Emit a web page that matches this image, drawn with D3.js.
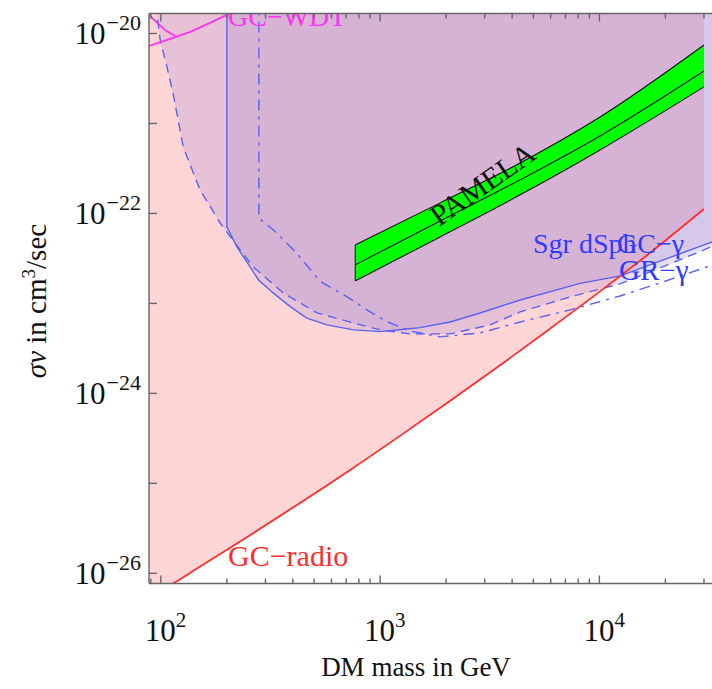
<!DOCTYPE html>
<html><head><meta charset="utf-8">
<script src="https://cdn.jsdelivr.net/npm/d3@7"></script>
<style>
body{margin:0;background:#fff}
svg{display:block}
text{font-family:"Liberation Serif","DejaVu Serif",serif}
</style>
</head><body>
<svg id="c" width="712" height="689"></svg>
<script>
// ---------- data (DM mass in GeV, sigma v in cm^3/s) ----------
const radioMass  = [88, 113, 151, 255, 431, 730, 1233, 2084, 3524, 5957, 10070, 17020, 30000];
const radioSigma = [5.4e-27, 7.64e-27, 1.19e-26, 2.65e-26, 6.05e-26, 1.41e-25, 3.37e-25, 8.26e-25, 2.05e-24, 5.24e-24, 1.36e-23, 3.64e-23, 1.12e-22];

const sgrMass  = [200, 200, 222, 279, 326, 389, 463, 572, 756, 1000, 1295, 1522, 2085, 2858, 4350, 8166, 12430, 30000, 35500];
const sgrSigma = [1e-19, 7.08e-23, 4.28e-23, 1.82e-23, 1.30e-23, 9.20e-24, 6.85e-24, 5.77e-24, 5.08e-24, 4.86e-24, 5.16e-24, 5.38e-24, 6.22e-24, 7.83e-24, 1.09e-23, 1.67e-23, 2.02e-23, 4.47e-23, 5.2e-23];

const gcGammaMass  = [93.2, 95.9, 99.3, 106.5, 114.1, 126.4, 151, 186.4, 229.9, 263.6, 361.2, 516.1, 755, 1000, 1370, 2085, 3175, 4350, 7352, 12430, 18920, 30000, 35500];
const gcGammaSigma = [3.04e-20, 1.675e-20, 8.47e-21, 4.28e-21, 2.07e-21, 5.48e-22, 1.82e-22, 7.83e-23, 3.93e-23, 2.55e-23, 1.31e-23, 7.83e-24, 6.07e-24, 5.08e-24, 4.58e-24, 4.58e-24, 5.77e-24, 8.05e-24, 1.18e-23, 1.65e-23, 2.48e-23, 3.93e-23, 4.70e-23];

const grGammaMass  = [280, 280, 326, 417, 533, 705, 870, 1073, 1370, 1878, 2858, 4350, 7352, 12430, 18920, 30000, 35500];
const grGammaSigma = [1e-19, 8.85e-23, 6.56e-23, 3.61e-23, 1.75e-23, 1.19e-23, 8.47e-24, 6.28e-24, 4.94e-24, 4.25e-24, 4.70e-24, 6.22e-24, 8.47e-24, 1.21e-23, 1.69e-23, 2.48e-23, 2.89e-23];

const wdtMassA  = [88.4, 110.3, 136, 167.8, 200, 229.9];
const wdtSigmaA = [7.26e-21, 8.69e-21, 1.04e-20, 1.31e-20, 1.61e-20, 1.92e-20];
const wdtMassB  = [88.4, 97.2, 105.7, 116.2];
const wdtSigmaB = [1.61e-20, 1.28e-20, 1.07e-20, 9.38e-21];

const pamelaMass   = [770, 1878, 4350, 10070, 30000];
const pamelaLow    = [1.78e-23, 5.48e-23, 1.61e-22, 5.08e-22, 2.55e-21];
const pamelaCenter = [2.68e-23, 8.26e-23, 2.36e-22, 7.26e-22, 3.83e-21];
const pamelaHigh   = [4.47e-23, 1.31e-22, 3.64e-22, 1.18e-21, 7.45e-21];

const xTickDecades = [100, 1000, 10000];
const yTickExps = [-26, -25, -24, -23, -22, -21, -20];
const yLabelExps = [-26, -24, -22, -20];

// ---------- chart ----------
const svg = d3.select('#c');
const plotL = 149, plotT = 13.5, plotB = 583.5, plotR = 760;
const x = d3.scaleLog().domain([88.3, 30000]).range([149, 704]);
const y = d3.scaleLog().domain([Math.pow(10, -26.113), Math.pow(10, -19.778)]).range([583.5, 13.5]);

svg.append('defs').append('clipPath').attr('id', 'clip')
  .append('rect').attr('x', plotL).attr('y', plotT).attr('width', plotR - plotL).attr('height', plotB - plotT);
const g = svg.append('g').attr('clip-path', 'url(#clip)');

const TOP = 1e-19;
const zip = (a, b) => a.map((m, i) => [m, b[i]]);
const areaAbove = d3.area().x(d => x(d[0])).y0(y(TOP)).y1(d => y(d[1]));
const areaAboveSmooth = d3.area().curve(d3.curveMonotoneX).x(d => x(d[0])).y0(y(TOP)).y1(d => y(d[1]));
const line = d3.line().x(d => x(d[0])).y(d => y(d[1]));
const smooth = d3.line().curve(d3.curveMonotoneX).x(d => x(d[0])).y(d => y(d[1]));

// GC-radio excluded region (pink)
g.append('path').attr('d', areaAboveSmooth(zip(radioMass, radioSigma)))
  .attr('fill', 'rgb(255,0,0)').attr('fill-opacity', 0.165);
// gamma exclusions (bluish, overlapping)
const blueFill = 'rgb(172,145,215)';
g.append('path').attr('d', areaAbove(zip(gcGammaMass, gcGammaSigma)))
  .attr('fill', blueFill).attr('fill-opacity', 0.29);
g.append('path').attr('d', areaAbove(zip(sgrMass, sgrSigma)))
  .attr('fill', blueFill).attr('fill-opacity', 0.29);

const blueLine = '#5a62f0';
g.append('path').attr('d', line(zip(gcGammaMass, gcGammaSigma)))
  .attr('fill', 'none').attr('stroke', blueLine).attr('stroke-width', 1.4).attr('stroke-dasharray', '9,6');
g.append('path').attr('d', line(zip(grGammaMass, grGammaSigma)))
  .attr('fill', 'none').attr('stroke', blueLine).attr('stroke-width', 1.4).attr('stroke-dasharray', '11,6,3,6');
g.append('path').attr('d', line(zip(sgrMass, sgrSigma)))
  .attr('fill', 'none').attr('stroke', blueLine).attr('stroke-width', 1.4);

// GC-radio line
g.append('path').attr('d', smooth(zip(radioMass, radioSigma)))
  .attr('fill', 'none').attr('stroke', '#ff2d2d').attr('stroke-width', 1.8);

// GC-WDT magenta
g.append('path').attr('d', line(zip(wdtMassA, wdtSigmaA)))
  .attr('fill', 'none').attr('stroke', '#ff33ee').attr('stroke-width', 1.8);
g.append('path').attr('d', line(zip(wdtMassB, wdtSigmaB)))
  .attr('fill', 'none').attr('stroke', '#ff33ee').attr('stroke-width', 1.8);
// GC-WDT label, clipped by the frame like in the original
g.append('text').attr('x', 228).attr('y', 26).attr('font-size', 28).attr('fill', '#ff33ee').text('GC−WDT');

// PAMELA band
const band = d3.area().curve(d3.curveMonotoneX).x(d => x(d[0])).y0(d => y(d[1])).y1(d => y(d[2]));
const bandData = pamelaMass.map((m, i) => [m, pamelaLow[i], pamelaHigh[i]]);
g.append('path').attr('d', band(bandData)).attr('fill', '#00ff00').attr('stroke', 'none');
g.append('path').attr('d', smooth(zip(pamelaMass, pamelaLow))).attr('fill', 'none').attr('stroke', '#111').attr('stroke-width', 1.1);
g.append('path').attr('d', smooth(zip(pamelaMass, pamelaHigh))).attr('fill', 'none').attr('stroke', '#111').attr('stroke-width', 1.1);
g.append('path').attr('d', smooth(zip(pamelaMass, pamelaCenter))).attr('fill', 'none').attr('stroke', '#111').attr('stroke-width', 1.1);
g.append('line').attr('x1', x(pamelaMass[0])).attr('x2', x(pamelaMass[0]))
  .attr('y1', y(pamelaLow[0])).attr('y2', y(pamelaHigh[0])).attr('stroke', '#111').attr('stroke-width', 1);

// ---------- curve labels ----------
svg.append('text').attr('transform', 'translate(439,227) rotate(-35)')
  .attr('font-size', 30).attr('fill', '#111').text('PAMELA');
svg.append('text').attr('x', 228).attr('y', 566).attr('font-size', 30).attr('fill', '#ff2d2d').text('GC−radio');
svg.append('text').attr('x', 533).attr('y', 253).attr('font-size', 28).attr('fill', '#2f3cff').text('Sgr dSph');
svg.append('text').attr('x', 617).attr('y', 253).attr('font-size', 28).attr('fill', '#2f3cff').text('GC−γ');
svg.append('text').attr('x', 619).attr('y', 280).attr('font-size', 29).attr('fill', '#2f3cff').text('GR−γ');

// ---------- frame & ticks ----------
const axisCol = '#666';
const ax = svg.append('g').attr('stroke', axisCol).attr('stroke-width', 1.4);
ax.append('line').attr('x1', plotL).attr('x2', 712).attr('y1', plotB).attr('y2', plotB);
ax.append('line').attr('x1', plotL).attr('x2', 712).attr('y1', plotT).attr('y2', plotT);
ax.append('line').attr('x1', plotL).attr('x2', plotL).attr('y1', plotT).attr('y2', plotB);

const xt = [];
[10, 100, 1000, 10000].forEach(d => {
  for (let k = 1; k <= 9; k++) {
    const v = d * k;
    const px = x(v);
    if (px >= plotL - 0.5 && px <= 712) xt.push({v, major: k === 1});
  }
});
xt.forEach(t => {
  const px = x(t.v), len = t.major ? 8 : 5;
  ax.append('line').attr('x1', px).attr('x2', px).attr('y1', plotB).attr('y2', plotB - len);
  ax.append('line').attr('x1', px).attr('x2', px).attr('y1', plotT).attr('y2', plotT + len);
});
yTickExps.forEach(e => {
  const py = y(Math.pow(10, e));
  ax.append('line').attr('x1', plotL).attr('x2', plotL + 8).attr('y1', py).attr('y2', py);
});

// tick labels
xTickDecades.forEach(d => {
  const t = svg.append('text').attr('x', x(d) - 16).attr('y', 641).attr('font-size', 31).attr('fill', '#111');
  t.append('tspan').text('10');
  t.append('tspan').attr('font-size', 21).attr('dy', -14).text(String(Math.round(Math.log10(d))));
});
yLabelExps.forEach(e => {
  const py = y(Math.pow(10, e));
  const t = svg.append('text').attr('x', 141).attr('y', py + 11).attr('font-size', 31).attr('fill', '#111').attr('text-anchor', 'end');
  t.append('tspan').text('10');
  t.append('tspan').attr('font-size', 22).attr('dy', -14).attr('dx', 1).text('−' + Math.abs(e));
});

// axis titles
svg.append('text').attr('x', 416).attr('y', 676).attr('font-size', 27).attr('fill', '#111')
  .attr('text-anchor', 'middle').text('DM mass in GeV');
const yt = svg.append('text').attr('transform', 'translate(46,301) rotate(-90)').attr('font-size', 29)
  .attr('fill', '#111').attr('text-anchor', 'middle');
yt.append('tspan').attr('font-style', 'italic').text('σv');
yt.append('tspan').text(' in cm');
yt.append('tspan').attr('font-size', 19).attr('dy', -11).text('3');
yt.append('tspan').attr('dy', 11).text('/sec');
</script>
</body></html>
